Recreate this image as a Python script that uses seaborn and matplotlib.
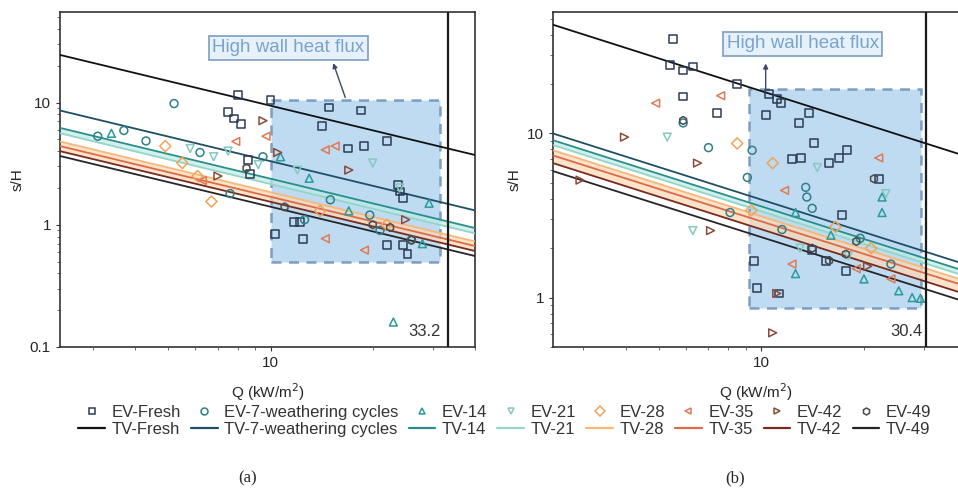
import numpy as np
import pandas as pd
import matplotlib
matplotlib.use("Agg")
import matplotlib.pyplot as plt
from matplotlib.lines import Line2D
from matplotlib.patches import Rectangle
import seaborn as sns

# ---------------- data ----------------
series = ["Fresh", "7-weathering cycles", "14", "21", "28", "35", "42", "49"]
ev_markers = ["s", "o", "^", "v", "D", "<", ">", "h"]
ev_colors = ["#2b3a55", "#2f7f86", "#2a9a9a", "#86c9bf", "#f0a35a", "#e07a55", "#8a4a3a", "#4a4a4a"]
tv_colors = ["#111111", "#1f4f66", "#2a8f8a", "#93d6c6", "#f6b878", "#e06a48", "#7a2a1e", "#262626"]

# panel (a) experimental points (Q, s/H)
ev_a = {
    "Fresh": [(8.0, 11.6), (7.5, 8.3), (7.8, 7.4), (8.2, 6.7), (10, 10.4), (14.9, 9.1), (18.5, 8.6),
              (14.2, 6.4), (16.9, 4.2), (18.9, 4.4), (22, 4.85), (23.7, 2.1), (24, 1.87), (24.5, 1.66),
              (22, 0.68), (24.5, 0.68), (25.3, 0.58), (10.3, 0.84), (12.5, 0.77), (11.7, 1.06),
              (8.6, 3.4), (8.7, 2.6), (12.2, 1.06)],
    "7-weathering cycles": [(5.2, 9.8), (3.7, 5.9), (3.1, 5.3), (4.3, 4.85), (6.2, 3.9), (7.6, 1.8),
                            (12.6, 1.1), (19.6, 1.2), (21, 0.9), (26, 0.75), (9.5, 3.6), (15, 1.6)],
    "14": [(23, 0.16), (29.3, 1.5), (10.7, 3.6), (28, 0.7), (17, 1.3), (13, 2.4), (3.4, 5.6)],
    "21": [(6.8, 3.6), (7.5, 4.0), (9.2, 3.1), (5.8, 4.2), (20, 3.2), (24, 2.0), (12, 2.8)],
    "28": [(6.7, 1.55), (4.9, 4.4), (6.1, 2.5), (5.5, 3.2), (14, 1.3), (22, 1.0)],
    "35": [(9.7, 5.3), (14.5, 4.1), (14.5, 0.77), (18.9, 0.62), (7.9, 4.8), (15.5, 4.4), (6.3, 2.3)],
    "42": [(9.5, 7.1), (10.5, 3.9), (25, 1.1), (17, 2.8), (7.0, 2.5)],
    "49": [(26, 0.75), (20, 1.0), (8.5, 2.9), (11, 1.4), (22.5, 0.95)],
}
# panel (b) experimental points
ev_b = {
    "Fresh": [(5.5, 37.5), (5.4, 26), (5.9, 24.2), (6.3, 25.6), (8.5, 20), (5.9, 16.8), (7.4, 13.4),
              (10.55, 17.5), (11.1, 16.3), (11.4, 15.3), (10.3, 12.9), (13.8, 13.4), (12.9, 11.6),
              (14.3, 8.7), (13.1, 7.1), (12.3, 7.0), (15.8, 6.6), (16.9, 7.1), (17.8, 7.9), (22.1, 5.3),
              (17.2, 3.2), (14.1, 1.94), (15.5, 1.68), (17.7, 1.46), (9.5, 1.68), (9.7, 1.15), (11.3, 1.06)],
    "7-weathering cycles": [(5.9, 11.6), (7.0, 8.2), (9.4, 7.9), (9.1, 5.4), (13.5, 4.7), (13.6, 4.1),
                            (14.1, 3.5), (8.1, 3.3), (19.5, 2.3), (24, 1.6), (11.5, 2.6)],
    "14": [(22.6, 4.1), (22.6, 3.3), (25.3, 1.1), (27.7, 1.0), (29.3, 0.99), (12.6, 3.3), (12.6, 1.4),
           (16, 2.4), (20, 1.3)],
    "21": [(5.3, 9.5), (6.3, 2.56), (14.6, 6.2), (23.2, 4.3), (18, 1.8), (13, 2.0)],
    "28": [(8.5, 8.7), (10.8, 6.6), (9.35, 3.4), (16.5, 2.7), (21, 2.0)],
    "35": [(4.9, 15.3), (7.6, 17.0), (22.1, 7.1), (11.7, 4.5), (12.3, 1.6), (19, 1.5), (24, 1.3)],
    "42": [(3.97, 9.5), (6.5, 6.6), (7.1, 2.56), (10.8, 0.61), (2.94, 5.2), (11.1, 1.06), (20.5, 1.55)],
    "49": [(5.9, 12.0), (21.4, 5.3), (14.1, 2.0), (15.8, 1.68), (17.7, 1.84), (19, 2.2)],
}

# fitted power-law lines: values at left and right Q ends
q_line_a = [2.4, 40.0]
tv_a = {"Fresh": [24.5, 3.72], "7-weathering cycles": [8.6, 1.31], "14": [6.2, 0.94], "21": [5.6, 0.85],
        "28": [4.8, 0.73], "35": [4.4, 0.67], "42": [4.0, 0.61], "49": [3.65, 0.555]}
q_line_b = [2.45, 38.0]
tv_b = {"Fresh": [46, 7.5], "7-weathering cycles": [10, 1.64], "14": [9.1, 1.49], "21": [8.5, 1.39],
        "28": [7.9, 1.30], "35": [7.35, 1.21], "42": [6.6, 1.08], "49": [5.9, 0.97]}

xlim_a, ylim_a = (2.4, 40.0), (0.1, 55)
xlim_b, ylim_b = (2.45, 38.0), (0.5, 55)
chf_a, chf_b = 33.2, 30.4
box_a = (10.0, 31.5, 0.5, 10.5)
box_b = (9.2, 29.4, 0.87, 18.8)

# ---------------- style ----------------
sns.set_style("ticks")
plt.rcParams["font.family"] = ["Liberation Sans", "DejaVu Sans"]
plt.rcParams["axes.edgecolor"] = "#333333"
plt.rcParams["axes.linewidth"] = 1.2

fig = plt.figure(figsize=(9.58, 4.95), dpi=100)
ax_a = fig.add_axes([60 / 958, 1 - 347 / 495, 415 / 958, 335 / 495])
ax_b = fig.add_axes([553 / 958, 1 - 347 / 495, 406 / 958, 335 / 495])


def draw_panel(ax, ev, tv, qline, xlim, ylim, chf, box, text_xy, arrow_from, arrow_to, lab_xy):
    ax.set_xscale("log")
    ax.set_yscale("log")
    ax.set_xlim(*xlim)
    ax.set_ylim(*ylim)
    # shaded region
    x0, x1, y0, y1 = box
    ax.add_patch(Rectangle((x0, y0), x1 - x0, y1 - y0, facecolor="#a9d0ee", alpha=0.75,
                           edgecolor="#5f84ad", linestyle=(0, (4, 3)), linewidth=1.8, zorder=1))
    # bands
    ax.fill_between(qline, tv["14"], tv["21"], color="#bfeae6", alpha=0.7, zorder=1.2, linewidth=0)
    ax.fill_between(qline, tv["28"], tv["42"], color="#fcd9b6", alpha=0.7, zorder=1.2, linewidth=0)
    # fitted lines
    for s, c in zip(series, tv_colors):
        df = pd.DataFrame({"Q": qline, "v": tv[s]})
        sns.lineplot(data=df, x="Q", y="v", ax=ax, color=c, linewidth=1.3, zorder=3, legend=False)
    # experimental points
    for s, m, c in zip(series, ev_markers, ev_colors):
        pts = np.array(ev[s])
        df = pd.DataFrame({"Q": pts[:, 0], "v": pts[:, 1]})
        sns.scatterplot(data=df, x="Q", y="v", ax=ax, marker=m, s=32, facecolors="none",
                        edgecolor=c, linewidth=1.1, zorder=4, legend=False)
    ax.axvline(chf, color="#1a1a1a", linewidth=1.6, zorder=5)
    ax.text(lab_xy[0], lab_xy[1], f"{chf}", transform=ax.transAxes, ha="right", va="center",
            fontsize=12, color="#333333", zorder=6)
    ax.text(text_xy[0], text_xy[1], "High wall heat flux", transform=ax.transAxes, ha="center",
            va="center", fontsize=13.5, color="#7aa3cc", zorder=6,
            bbox=dict(boxstyle="square,pad=0.18", facecolor="#e6f1fb", edgecolor="#7f9dbd", linewidth=1.2))
    ax.annotate("", xy=arrow_to, xycoords="data", xytext=arrow_from, textcoords="data",
                arrowprops=dict(arrowstyle="-|>", color="#3a4a66", lw=1.0, shrinkA=0, shrinkB=0,
                                mutation_scale=7), zorder=6)
    ax.set_xlabel("Q (kW/m$^2$)", fontsize=11, labelpad=8)
    ax.set_ylabel("s/H", fontsize=11, labelpad=4)
    ax.tick_params(axis="both", which="major", labelsize=11, length=3, direction="out", color="#333333")
    ax.tick_params(axis="both", which="minor", length=2, direction="out", color="#555555")
    ax.xaxis.set_major_formatter(matplotlib.ticker.FuncFormatter(lambda v, p: f"{v:g}"))
    ax.yaxis.set_major_formatter(matplotlib.ticker.FuncFormatter(lambda v, p: f"{v:g}"))
    ax.xaxis.set_minor_formatter(matplotlib.ticker.NullFormatter())
    ax.yaxis.set_minor_formatter(matplotlib.ticker.NullFormatter())
    for sp in ax.spines.values():
        sp.set_visible(True)


draw_panel(ax_a, ev_a, tv_a, q_line_a, xlim_a, ylim_a, chf_a, box_a,
           text_xy=(0.55, 0.893), arrow_from=(16.6, 11.0), arrow_to=(15.3, 21.0), lab_xy=(0.918, 0.045))
draw_panel(ax_b, ev_b, tv_b, q_line_b, xlim_b, ylim_b, chf_b, box_b,
           text_xy=(0.615, 0.905), arrow_from=(10.3, 18.8), arrow_to=(10.3, 26.7), lab_xy=(0.911, 0.045))

# legend: EV markers in row 1, TV lines in row 2
handles, labels = [], []
for s, m, ce, ct in zip(series, ev_markers, ev_colors, tv_colors):
    handles.append(Line2D([], [], linestyle="none", marker=m, markersize=5, markerfacecolor="none",
                          markeredgecolor=ce, markeredgewidth=1.1))
    labels.append(f"EV-{s}")
    handles.append(Line2D([], [], color=ct, linewidth=1.6))
    labels.append(f"TV-{s}")
leg = fig.legend(handles, labels, ncol=8, loc="center", bbox_to_anchor=(0.527, 1 - 421 / 495), frameon=False,
                 fontsize=12, handlelength=1.6, handletextpad=0.4, columnspacing=0.6, labelspacing=0.12,
                 borderaxespad=0, borderpad=0)
for t in leg.get_texts():
    t.set_color("#333333")

fig.text(248 / 958, 1 - 478 / 495, "(a)", ha="center", va="center", fontsize=12,
         family=["Liberation Serif", "DejaVu Serif"])
fig.text(735 / 958, 1 - 478 / 495, "(b)", ha="center", va="center", fontsize=12,
         family=["Liberation Serif", "DejaVu Serif"])

fig.savefig("out.png", dpi=100)
